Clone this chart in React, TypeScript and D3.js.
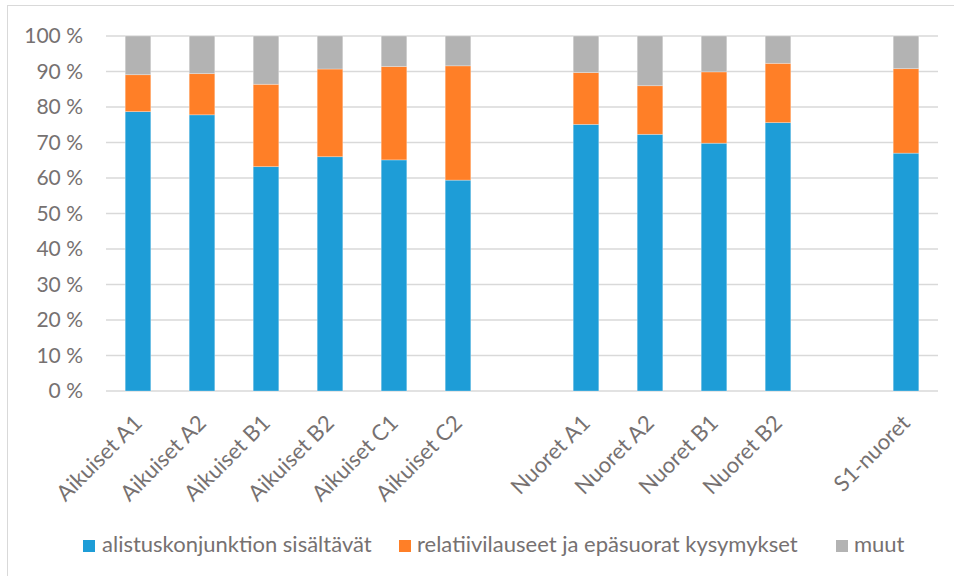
import React from 'react'
import * as d3 from 'd3'

// categories ('' and ' ' are the empty gap slots)
const categories = [
  'Aikuiset A1',
  'Aikuiset A2',
  'Aikuiset B1',
  'Aikuiset B2',
  'Aikuiset C1',
  'Aikuiset C2',
  '',
  'Nuoret A1',
  'Nuoret A2',
  'Nuoret B1',
  'Nuoret B2',
  ' ',
  'S1-nuoret'
]

const seriesNames = [
  'alistuskonjunktion sisältävät',
  'relatiivilauseet ja epäsuorat kysymykset',
  'muut'
]

// percentages, null = empty slot
const alistus = [78.7, 77.8, 63.2, 66.0, 65.1, 59.4, null, 75.1, 72.3, 69.8, 75.6, null, 67.0]
const relatiivi = [10.4, 11.6, 23.2, 24.7, 26.3, 32.2, null, 14.6, 13.7, 20.1, 16.7, null, 23.8]
const muut = [10.9, 10.6, 13.6, 9.3, 8.6, 8.4, null, 10.3, 14.0, 10.1, 7.7, null, 9.2]

const yTicks = [0, 10, 20, 30, 40, 50, 60, 70, 80, 90, 100]

const colors = ['#1e9dd7', '#ff7f27', '#b3b3b3']
const textColor = '#767171'
const font = 'Lato, "Open Sans", sans-serif'

const width = 954,
  height = 576,
  margin = { top: 36, right: 16, bottom: 185, left: 106 }

const App = () => {
  const rows = categories.map((c, i) => ({
    cat: c,
    s0: alistus[i] ?? 0,
    s1: relatiivi[i] ?? 0,
    s2: muut[i] ?? 0,
    empty: alistus[i] == null
  }))

  const x = d3
    .scaleBand()
    .domain(categories)
    .range([margin.left, width - margin.right])
    .paddingInner(0.6)
    .paddingOuter(0.3)

  const y = d3
    .scaleLinear()
    .domain([0, 1])
    .range([height - margin.bottom, margin.top])

  const stacked = d3
    .stack()
    .keys(['s0', 's1', 's2'])
    .offset(d3.stackOffsetExpand)(rows as any)

  const legendItems = [
    { x: 83, tx: 102 },
    { x: 399, tx: 417 },
    { x: 836, tx: 854 }
  ]

  return (
    <svg
      width={width}
      height={height}
      style={{ position: 'absolute', left: 0, top: 0, fontFamily: font }}>
      <rect x={0} y={0} width={width} height={height} fill='#fff' />
      <rect
        x={7.5}
        y={5.5}
        width={width + 20}
        height={height + 20}
        fill='none'
        stroke='#d9d9d9'
        strokeWidth={1}
      />

      <g className='grid'>
        {yTicks.map(t => (
          <line
            key={t}
            x1={margin.left}
            x2={width - margin.right}
            y1={y(t / 100)}
            y2={y(t / 100)}
            stroke='#d9d9d9'
            strokeWidth={1.4}
          />
        ))}
      </g>

      <g className='y axis'>
        {yTicks.map(t => (
          <text
            key={t}
            x={83}
            y={y(t / 100)}
            dy='0.35em'
            textAnchor='end'
            fontSize={21}
            fill={textColor}>
            {t} %
          </text>
        ))}
      </g>

      {stacked.map((s, si) => (
        <g key={si} fill={colors[si]}>
          {s.map((d, i) =>
            rows[i].empty ? null : (
              <rect
                key={i}
                x={x(categories[i])}
                width={x.bandwidth()}
                y={y(d[1])}
                height={y(d[0]) - y(d[1])}
                stroke='#ffffff'
                strokeOpacity={0.35}
                strokeWidth={0.8}
              />
            )
          )}
        </g>
      ))}

      <g className='x axis'>
        {categories.map((c, i) =>
          c.trim() === '' ? null : (
            <text
              key={i}
              transform={`translate(${x(c)! + x.bandwidth() / 2},${419}) rotate(-45)`}
              dy='0.35em'
              textAnchor='end'
              fontSize={22}
              fill={textColor}>
              {c}
            </text>
          )
        )}
      </g>

      <g className='legend'>
        {seriesNames.map((n, i) => (
          <g key={i}>
            <rect x={legendItems[i].x} y={540} width={12} height={12} fill={colors[i]} />
            <text x={legendItems[i].tx} y={552} fontSize={22} fill={textColor}>
              {n}
            </text>
          </g>
        ))}
      </g>
    </svg>
  )
}

export default App
